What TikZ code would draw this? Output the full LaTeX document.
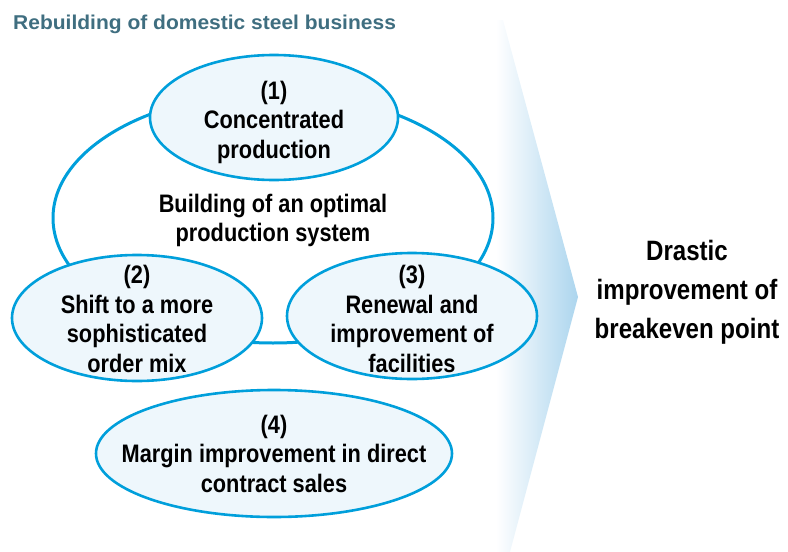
\documentclass[tikz,border=0pt]{standalone}
\usepackage{fontspec}
\setmainfont{Liberation Sans}
\newfontfamily\cond{Liberation Sans}[FakeStretch=0.86]
\newfontfamily\wide{Liberation Sans}[FakeStretch=1.05]
\usetikzlibrary{shapes.geometric}
\definecolor{ringblue}{RGB}{0,159,219}
\definecolor{ellfill}{RGB}{238,247,252}
\definecolor{chevblue}{RGB}{172,213,238}
\definecolor{titlecol}{RGB}{63,110,128}
\tikzset{
  oval/.style={ellipse, draw=ringblue, line width=2.6pt, fill=ellfill, inner sep=0pt, outer sep=0pt},
  bigoval/.style={ellipse, draw=ringblue, line width=3pt, inner sep=0pt, outer sep=0pt},
  lbl/.style={align=center, anchor=base, inner sep=0pt, font={\cond\bfseries\fontsize{25.3}{29.5}\selectfont}},
  rlbl/.style={align=center, anchor=base, inner sep=0pt, font={\cond\bfseries\fontsize{28}{39}\selectfont}},
}
\begin{document}
\begin{tikzpicture}[x=1pt,y=-1pt]
\useasboundingbox (0,0) rectangle (788,552);
% chevron background
\shade[left color=white, right color=chevblue] (496,20) -- (503,20) -- (578,297) -- (510,552) -- (496,552) -- cycle;
% title
\node[anchor=base west, inner sep=0pt, text=titlecol, font={\wide\bfseries\fontsize{20}{24}\selectfont}] (title) at (13,29) {Rebuilding of domestic steel business};
% big ellipse
\node[bigoval, minimum width=440pt, minimum height=250pt] (big) at (273,218) {};
% small ellipses
\node[oval, minimum width=248pt, minimum height=125pt] (e1) at (274,117.5) {};
\node[oval, minimum width=250pt, minimum height=126pt] (e2) at (137,318) {};
\node[oval, minimum width=250pt, minimum height=126pt] (e3) at (412,316) {};
\node[oval, minimum width=356pt, minimum height=127pt] (e4) at (274,453.5) {};
% texts (base anchor = baseline of last line)
\node[lbl] (t1) at (274,158) {(1)\\Concentrated\\production};
\node[lbl] (tc) at (273,241.7) {Building of an optimal\\production system};
\node[lbl] (t2) at (137,372) {(2)\\Shift to a more\\sophisticated\\order mix};
\node[lbl] (t3) at (412,372) {(3)\\Renewal and\\improvement of\\facilities};
\node[lbl] (t4) at (274,492) {(4)\\Margin improvement in direct\\contract sales};
\node[rlbl] (tr) at (687,338) {Drastic\\improvement of\\breakeven point};
\end{tikzpicture}
\end{document}
